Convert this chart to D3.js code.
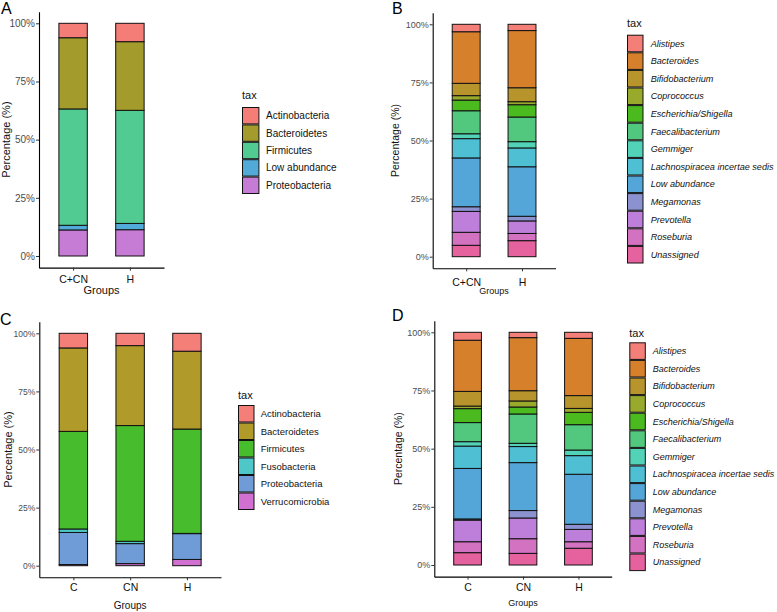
<!DOCTYPE html>
<html>
<head>
<meta charset="utf-8">
<script src="https://cdn.jsdelivr.net/npm/d3@7"></script>
<style>
  html, body { margin: 0; padding: 0; background: #fff; }
  svg { display: block; font-family: "Liberation Sans", Arial, Helvetica, sans-serif; }
</style>
</head>
<body>
<svg id="chart" width="777" height="612"></svg>
<script>
// ---------- DATA ----------
const groupsAB = ["C+CN", "H"];
const groupsCD = ["C", "CN", "H"];

const phylaA = ["Actinobacteria", "Bacteroidetes", "Firmicutes", "Low abundance", "Proteobacteria"];
const colorsA = ["#F47D77", "#A39C2C", "#52CB93", "#52AAD9", "#C67BD4"];
const valuesA = [
  [6.2, 30.6, 50.0, 2.0, 11.2],   // C+CN
  [7.9, 29.5, 48.6, 2.7, 11.3]    // H
];

const genera = ["Alistipes", "Bacteroides", "Bifidobacterium", "Coprococcus", "Escherichia/Shigella",
  "Faecalibacterium", "Gemmiger", "Lachnospiracea incertae sedis", "Low abundance", "Megamonas",
  "Prevotella", "Roseburia", "Unassigned"];
const colorsGenus = ["#F47E78", "#D7802C", "#B8952C", "#99A92C", "#4ABA1E", "#52C87E", "#52D3B7",
  "#4FBFD4", "#54A6D8", "#8C92CF", "#BE7FDA", "#D472C2", "#E6629F"];
const valuesB = [
  [3.2, 22.2, 5.3, 1.9, 4.6, 9.9, 2.1, 8.3, 21.0, 2.0, 9.0, 5.6, 4.9],  // C+CN
  [2.7, 24.6, 6.0, 1.3, 5.3, 10.6, 2.7, 8.1, 21.3, 2.0, 5.4, 3.1, 6.9]  // H
];
const valuesD = [
  [3.4, 22.0, 6.3, 1.1, 6.0, 8.2, 1.9, 9.6, 21.7, 0.5, 9.3, 4.7, 5.3],  // C
  [2.3, 22.8, 4.4, 2.6, 3.0, 12.6, 1.4, 6.9, 20.6, 3.2, 8.9, 6.3, 5.0], // CN
  [2.6, 24.6, 5.5, 1.7, 5.3, 10.9, 2.4, 8.0, 21.5, 2.2, 5.3, 2.8, 7.2]  // H
];

const phylaC = ["Actinobacteria", "Bacteroidetes", "Firmicutes", "Fusobacteria", "Proteobacteria", "Verrucomicrobia"];
const colorsC = ["#F47E78", "#B09A2A", "#47BC2C", "#4DC7C8", "#6F9CD7", "#D170D0"];
const valuesC = [
  [6.3, 35.9, 42.0, 1.5, 13.8, 0.5],  // C
  [5.3, 34.4, 49.8, 1.0, 8.6, 0.9],   // CN
  [7.7, 33.5, 44.9, 0.1, 11.1, 2.7]   // H
];

const yTicks = [0, 25, 50, 75, 100];

// ---------- DRAW ----------
const svg = d3.select("#chart");

function panel(cfg) {
  const g = svg.append("g");
  const u = (cfg.y0 - cfg.y100) / 100;
  const y = d3.scaleLinear().domain([-5, 105]).range([cfg.y0 + 5 * u, cfg.y100 - 5 * u]);
  const x = d3.scalePoint().domain(cfg.groups).range([cfg.axX, cfg.axX1]).padding(0.6);
  const bw = x.step() * 0.5;
  const axisY = y(-5);

  const rows = cfg.groups.map((grp, i) => {
    const r = { group: grp };
    cfg.taxa.forEach((t, j) => r[t] = cfg.values[i][j]);
    return r;
  });
  const color = d3.scaleOrdinal().domain(cfg.taxa).range(cfg.colors);
  const stack = d3.stack().keys(cfg.taxa.slice().reverse());
  const series = stack(rows);

  g.selectAll("g.layer").data(series).join("g").attr("class", "layer")
    .attr("fill", d => color(d.key))
    .selectAll("rect").data(d => d).join("rect")
    .attr("x", d => x(d.data.group) - bw / 2)
    .attr("width", bw)
    .attr("y", d => y(d[1]))
    .attr("height", d => y(d[0]) - y(d[1]))
    .attr("stroke", "#111")
    .attr("stroke-width", 1);

  const ya = g.append("g").attr("transform", `translate(${cfg.axX},0)`)
    .call(d3.axisLeft(y).tickValues(yTicks).tickFormat(d => d + "%").tickSize(3).tickSizeOuter(0));
  ya.select(".domain").attr("stroke", "#000").attr("stroke-width", 1.1);
  ya.selectAll(".tick line").attr("stroke", "#333");
  ya.selectAll(".tick text").attr("fill", "#4D4D4D").attr("font-size", cfg.yTickSize)
    .attr("font-family", "'Liberation Sans', Arial, sans-serif").attr("x", -4);

  const xa = g.append("g").attr("transform", `translate(0,${axisY})`)
    .call(d3.axisBottom(x).tickSize(3).tickSizeOuter(0));
  xa.select(".domain").attr("stroke", "#000").attr("stroke-width", 1.1);
  xa.selectAll(".tick line").attr("stroke", "#333");
  xa.selectAll(".tick text").attr("fill", "#111").attr("font-size", cfg.xTickSize)
    .attr("font-family", "'Liberation Sans', Arial, sans-serif")
    .attr("dy", null).attr("y", null)
    .attr("transform", `translate(0,${cfg.xTickBase - axisY})`);

  g.append("text").attr("x", (cfg.axX + cfg.axX1) / 2).attr("y", cfg.groupsBase)
    .attr("text-anchor", "middle").attr("font-size", cfg.groupsSize).attr("fill", "#111").text("Groups");
  g.append("text")
    .attr("transform", `translate(${cfg.ytX},${(cfg.y0 + cfg.y100) / 2}) rotate(-90)`)
    .attr("text-anchor", "middle").attr("dy", "0.35em")
    .attr("font-size", cfg.ytSize).attr("fill", "#111").text("Percentage (%)");

  g.append("text").attr("x", cfg.letterX).attr("y", cfg.letterY)
    .attr("font-size", 16).attr("fill", "#000").text(cfg.letter);

  const lg = g.append("g");
  lg.append("text").attr("x", cfg.legX).attr("y", cfg.legTitleY)
    .attr("font-size", 11).attr("fill", "#111").text("tax");
  const ks = cfg.keyH;
  const items = lg.selectAll("g.item").data(cfg.taxa).join("g").attr("class", "item")
    .attr("transform", (d, i) => `translate(${cfg.legX},${cfg.legY + i * ks})`);
  items.append("rect").attr("x", 0.5).attr("y", 0.5).attr("width", cfg.keyW - 1).attr("height", ks - 1)
    .attr("fill", d => color(d)).attr("stroke", "#111").attr("stroke-width", 1);
  items.append("text").attr("x", cfg.labX - cfg.legX).attr("y", ks / 2).attr("dy", "0.35em")
    .attr("font-size", cfg.labSize).attr("fill", "#111")
    .attr("font-style", cfg.italic ? "italic" : "normal").text(d => d);
}

panel({
  letter: "A", letterX: 1, letterY: 14,
  groups: groupsAB, taxa: phylaA, colors: colorsA, values: valuesA,
  axX: 39, axX1: 164, y0: 256, y100: 23.3,
  yTickSize: 10, xTickSize: 10.5, xTickBase: 282.5, groupsBase: 294, groupsSize: 11,
  ytX: 6, ytSize: 11,
  legX: 242, legTitleY: 99, legY: 107, keyW: 17.4, keyH: 17.4, labX: 266, labSize: 10, italic: false
});

panel({
  letter: "B", letterX: 392, letterY: 13.5,
  groups: groupsAB, taxa: genera, colors: colorsGenus, values: valuesB,
  axX: 432.7, axX1: 555.5, y0: 256.7, y100: 24.3,
  yTickSize: 9, xTickSize: 10.5, xTickBase: 285.5, groupsBase: 294, groupsSize: 9,
  ytX: 395.7, ytSize: 10.5,
  legX: 627, legTitleY: 27, legY: 34.7, keyW: 16.5, keyH: 17.6, labX: 650.7, labSize: 9.1, italic: true
});

panel({
  letter: "C", letterX: 0, letterY: 325,
  groups: groupsCD, taxa: phylaC, colors: colorsC, values: valuesC,
  axX: 39.3, axX1: 221, y0: 565.7, y100: 333.3,
  yTickSize: 8.5, xTickSize: 10.5, xTickBase: 590.7, groupsBase: 609, groupsSize: 10,
  ytX: 8.5, ytSize: 11,
  legX: 238, legTitleY: 399, legY: 405, keyW: 16.5, keyH: 17.5, labX: 260.7, labSize: 9.5, italic: false
});

panel({
  letter: "D", letterX: 392, letterY: 320.7,
  groups: groupsCD, taxa: genera, colors: colorsGenus, values: valuesD,
  axX: 434.3, axX1: 611.7, y0: 565, y100: 332.3,
  yTickSize: 9, xTickSize: 10.5, xTickBase: 590.7, groupsBase: 606, groupsSize: 9,
  ytX: 398, ytSize: 10.5,
  legX: 629.3, legTitleY: 337, legY: 342.3, keyW: 16.5, keyH: 17.6, labX: 652.7, labSize: 9, italic: true
});
</script>
</body>
</html>
